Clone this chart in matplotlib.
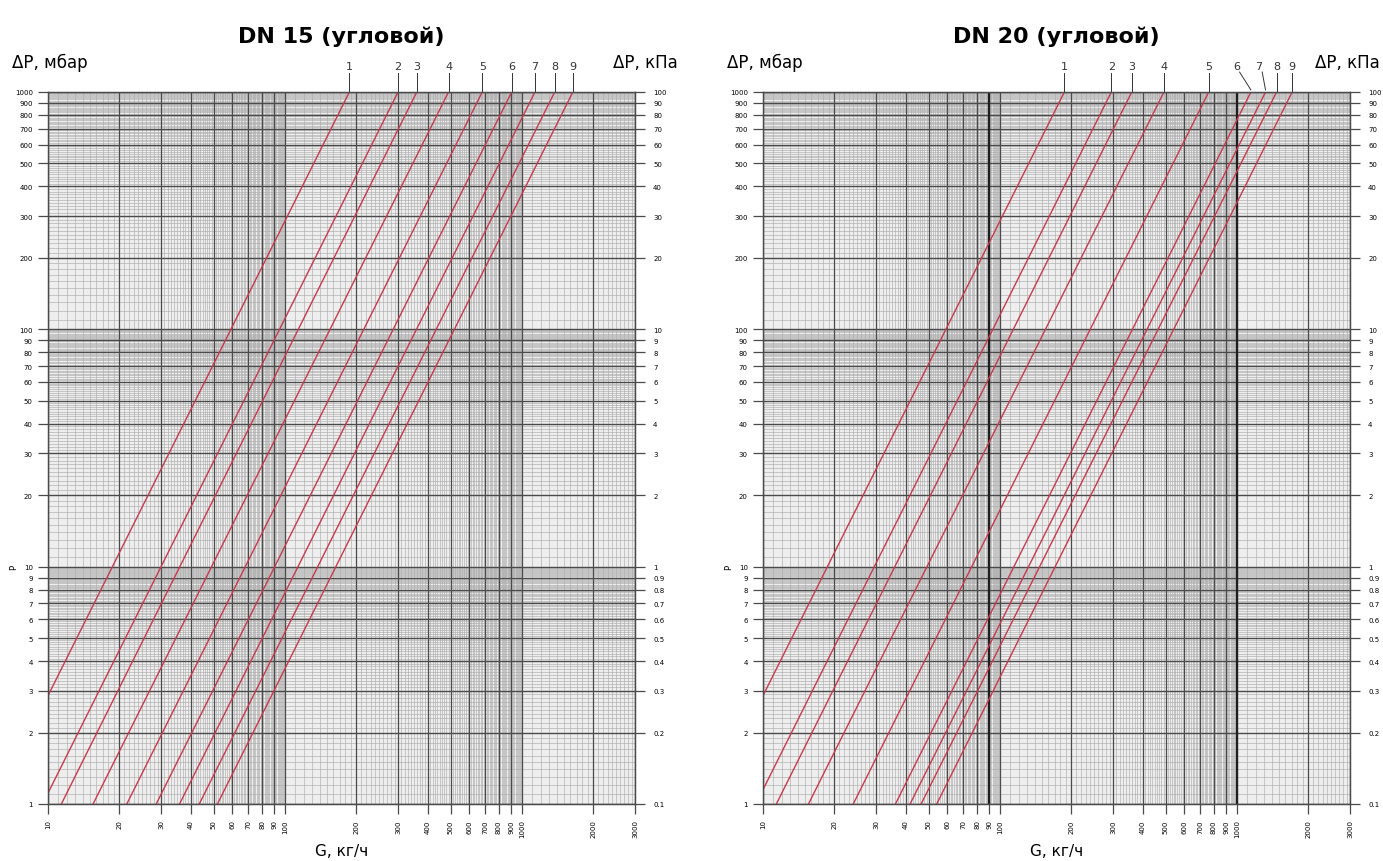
import numpy as np
import matplotlib
matplotlib.use("Agg")
import matplotlib.pyplot as plt
from matplotlib.transforms import blended_transform_factory

# ── data ─────────────────────────────────────────────────────────────────────
titles = ["DN 15 (угловой)", "DN 20 (угловой)"]
curve_names = ["1", "2", "3", "4", "5", "6", "7", "8", "9"]
# Kv, m3/h  (flow in kg/h at dP = 1 bar is 1000*Kv)
kv_dn15 = [0.187, 0.300, 0.360, 0.490, 0.680, 0.905, 1.135, 1.375, 1.640]
kv_dn20 = [0.187, 0.295, 0.360, 0.492, 0.760, 1.145, 1.320, 1.470, 1.710]

g_ticks = [10, 20, 30, 40, 50, 60, 70, 80, 90, 100,
           200, 300, 400, 500, 600, 700, 800, 900, 1000, 2000, 3000]
dp_ticks_mbar = [1, 2, 3, 4, 5, 6, 7, 8, 9, 10, 20, 30, 40, 50, 60, 70, 80, 90,
                 100, 200, 300, 400, 500, 600, 700, 800, 900, 1000]

G_MIN, G_MAX = 10, 3000
DP_MIN, DP_MAX = 1, 1000

RED = "#c63a4e"
MAJ = "#4a4a4a"
MIN = "#adadad"

plt.rcParams["font.family"] = ["DejaVu Sans"]


def fmt(v):
    return f"{v:g}"


def minor_values(lo, hi):
    out = []
    d = 10 ** np.floor(np.log10(lo))
    while d < hi:
        for m in np.arange(1.1, 10.0, 0.1):
            if abs(m - round(m)) > 1e-6:
                v = m * d
                if lo < v < hi:
                    out.append(v)
        d *= 10
    return out


def draw_chart(ax, title, kv, heavy=(), kpa_x=1.073):
    ax.set_xscale("log")
    ax.set_yscale("log")
    ax.set_xlim(G_MIN, G_MAX)
    ax.set_ylim(DP_MIN, DP_MAX)
    ax.set_facecolor("#eeeeee")

    # paper grid
    for v in minor_values(G_MIN, G_MAX):
        ax.axvline(v, color=MIN, lw=0.45, zorder=1)
    for v in minor_values(DP_MIN, DP_MAX):
        ax.axhline(v, color=MIN, lw=0.45, zorder=1)
    for v in g_ticks:
        ax.axvline(v, color=MAJ, lw=0.9, zorder=2)
    for v in dp_ticks_mbar:
        ax.axhline(v, color=MAJ, lw=1.0, zorder=2)
    for v in heavy:
        ax.axvline(v, color="#1e1e1e", lw=1.6, zorder=2)

    # curves dP ~ G^2
    dp = np.array([DP_MIN, DP_MAX], dtype=float)
    for k in kv:
        g = 1000 * k * np.sqrt(dp / 1000.0)
        ax.plot(g, dp, color=RED, lw=1.0, zorder=3)

    ax.set_xticks(g_ticks)
    ax.set_xticklabels([fmt(v) for v in g_ticks], rotation=90, fontsize=5)
    ax.xaxis.set_minor_locator(plt.NullLocator())
    ax.set_yticks(dp_ticks_mbar)
    ax.set_yticklabels([fmt(v) for v in dp_ticks_mbar], fontsize=5)
    ax.yaxis.set_minor_locator(plt.NullLocator())
    ax.tick_params(axis="both", length=7, width=0.9, color=MAJ, pad=4)

    axr = ax.twinx()
    axr.set_yscale("log")
    axr.set_ylim(DP_MIN / 10, DP_MAX / 10)
    axr.set_yticks([v / 10 for v in dp_ticks_mbar])
    axr.set_yticklabels([fmt(v / 10) for v in dp_ticks_mbar], fontsize=5)
    axr.yaxis.set_minor_locator(plt.NullLocator())
    axr.tick_params(axis="y", length=7, width=0.9, color=MAJ, pad=6)

    for a in (ax, axr):
        for sp in a.spines.values():
            sp.set_edgecolor(MAJ)
            sp.set_linewidth(0.9)

    ax.set_title(title, fontsize=16, fontweight="bold", pad=36)
    ax.text(-0.062, 1.03, "ΔP, мбар", transform=ax.transAxes,
            fontsize=12, ha="left", va="bottom")
    ax.text(kpa_x, 1.03, "ΔP, кПа", transform=ax.transAxes,
            fontsize=12, ha="right", va="bottom")
    ax.text(0.5, -0.055, "G, кг/ч", transform=ax.transAxes,
            fontsize=11, ha="center", va="top")
    ax.text(-0.058, 0.333, "Р", transform=ax.transAxes, rotation=90,
            fontsize=6, ha="center", va="center")
    return axr


def label_curves(ax, kv, shift=None):
    shift = shift or {}
    tr = blended_transform_factory(ax.transData, ax.transAxes)
    for name, k in zip(curve_names, kv):
        g_top = 1000 * k
        g_lab = g_top * shift.get(name, 1.0)
        ax.text(g_lab, 1.03, name, transform=tr, fontsize=8,
                ha="center", va="bottom", color="#333333")
        if name in shift:
            ax.plot([g_lab * 1.03, g_top], [1.028, 1.003], transform=tr,
                    color="#333333", lw=0.7, clip_on=False)
        else:
            ax.plot([g_top, g_top], [1.027, 1.0], transform=tr,
                    color="#333333", lw=0.7, clip_on=False)


fig = plt.figure(figsize=(13.83, 8.62), dpi=100)
fig.patch.set_facecolor("white")

ax1 = fig.add_axes([48 / 1383, 57 / 862, 587 / 1383, 712 / 862])
ax2 = fig.add_axes([763 / 1383, 57 / 862, 587 / 1383, 712 / 862])

draw_chart(ax1, titles[0], kv_dn15, kpa_x=1.073)
label_curves(ax1, kv_dn15)
draw_chart(ax2, titles[1], kv_dn20, heavy=(90, 1000), kpa_x=1.05)
label_curves(ax2, kv_dn20, shift={"6": 0.87, "7": 0.94})

plt.savefig("out.png", dpi=100)
plt.close()
